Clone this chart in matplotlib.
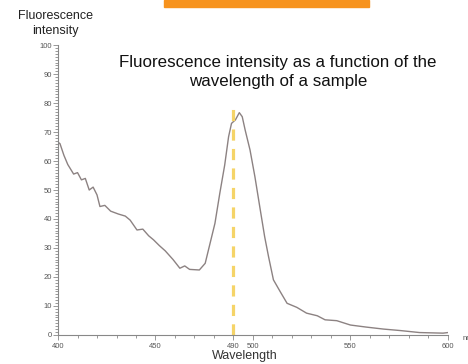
import matplotlib
matplotlib.use("Agg")
import matplotlib.pyplot as plt
from matplotlib.patches import Rectangle
from matplotlib.ticker import MultipleLocator, FixedLocator

plt.rcParams['font.family'] = ['Liberation Sans', 'DejaVu Sans']

# spectrum (nm, intensity)
wavelength = [400, 401, 403, 405, 408, 410, 412, 414, 416, 418, 420, 421.5,
              424, 427, 431, 434.5, 437, 440.5, 443.5, 446.5, 449, 452, 455,
              459, 462.5, 465, 467.5, 472.5, 475.5, 478, 480.5, 483, 485.5,
              487.5, 489, 491, 493, 494.5, 496, 498.5, 501, 503.5, 506, 508,
              510.5, 514, 517.5, 522.5, 527.5, 533, 537, 543, 550, 558, 567,
              575.5, 585.5, 597.5, 600]
intensity = [66.5, 66, 62, 58.8, 55.5, 56, 53.5, 54, 50, 51, 48.3, 44.3,
             44.7, 42.7, 41.7, 41, 39.6, 36.2, 36.5, 34.2, 32.8, 30.8, 29,
             26, 23, 23.8, 22.6, 22.4, 24.7, 31.6, 38.5, 48.9, 58.6,
             68.4, 73, 74.2, 76.7, 75.3, 70.7, 63.8, 54.6, 44.2, 33.9, 27,
             19, 14.9, 10.9, 9.5, 7.5, 6.6, 5.2, 4.9, 3.4, 2.7, 2,
             1.5, 0.8, 0.6, 0.8]
x_major = [400, 450, 490, 500, 550, 600]
marker_nm = 490
marker_top = 80.5

fig = plt.figure(figsize=(4.68, 3.64), dpi=100)
ax = fig.add_axes([0.124, 0.080, 0.833, 0.796])

ax.plot(wavelength, intensity, color='#8c8282', lw=1.0)
ax.plot([marker_nm, marker_nm], [0, marker_top], color='#f5d468', lw=2.3,
        dashes=(3.5, 2.6))

ax.set_xlim(400, 600)
ax.set_ylim(0, 100)
ax.spines['top'].set_visible(False)
ax.spines['right'].set_visible(False)
for s in ('left', 'bottom'):
    ax.spines[s].set_color('#888888')
    ax.spines[s].set_linewidth(0.8)

ax.xaxis.set_major_locator(FixedLocator(x_major))
ax.xaxis.set_minor_locator(MultipleLocator(10))
ax.yaxis.set_major_locator(MultipleLocator(10))
ax.yaxis.set_minor_locator(MultipleLocator(1))
ax.tick_params(which='both', colors='#888888', labelcolor='#555555',
               labelsize=5.5, width=0.6)
ax.tick_params(which='major', length=3.5)
ax.tick_params(which='minor', length=2.5)
ax.tick_params(axis='x', which='major', pad=2.5)
ax.tick_params(axis='y', which='major', pad=1)

fig.text(0.118, 0.935, 'Fluorescence\nintensity', ha='center', va='center',
         fontsize=9, color='#222222', linespacing=1.35)
fig.text(0.594, 0.802, 'Fluorescence intensity as a function of the\n'
         'wavelength of a sample', ha='center', va='center', fontsize=12.2,
         color='#111111', linespacing=1.38)
fig.text(0.524, 0.022, 'Wavelength', ha='center', va='center',
         fontsize=9, color='#333333')
fig.text(0.988, 0.069, 'nm', ha='left', va='center', fontsize=5.5,
         color='#555555')

fig.patches.append(Rectangle((0.350, 0.981), 0.438, 0.019,
                             transform=fig.transFigure, color='#f7931e',
                             zorder=5))

fig.savefig('out.png', dpi=100)
